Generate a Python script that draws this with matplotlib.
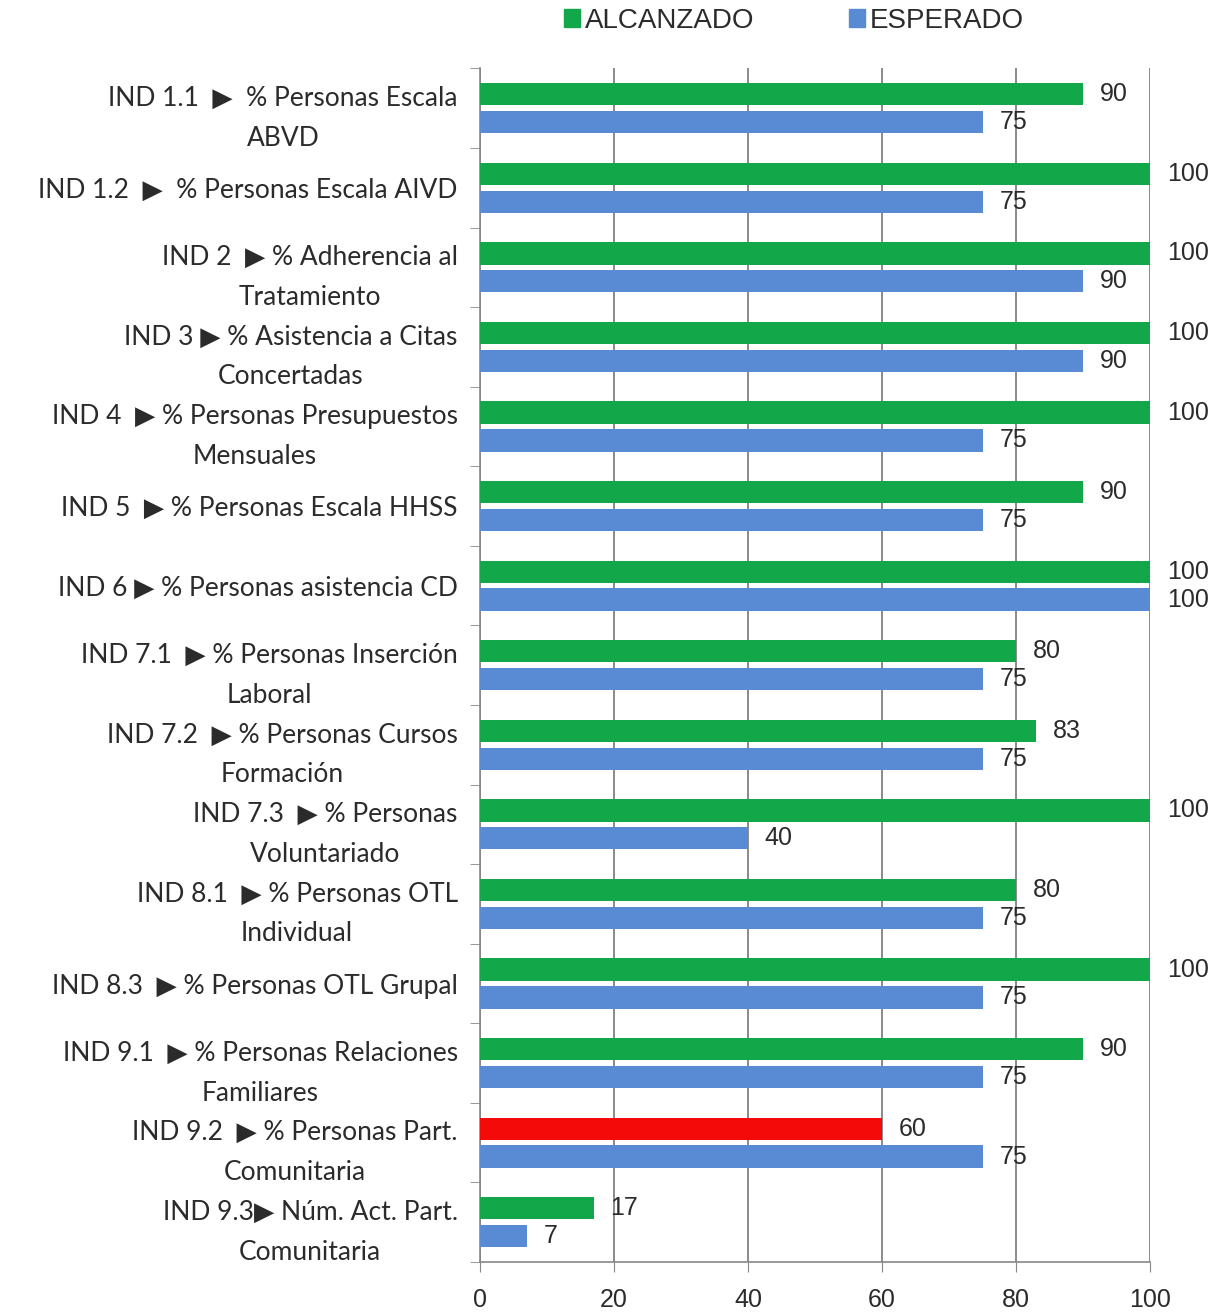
import numpy as np
import matplotlib
matplotlib.use('Agg')
import matplotlib.pyplot as plt
from matplotlib.patches import Patch

# Data
labels = [
    'IND 1.1  ▶  % Personas Escala\nABVD',
    'IND 1.2  ▶  % Personas Escala AIVD',
    'IND 2  ▶ % Adherencia al\nTratamiento',
    'IND 3 ▶ % Asistencia a Citas\nConcertadas',
    'IND 4  ▶ % Personas Presupuestos\nMensuales',
    'IND 5  ▶ % Personas Escala HHSS',
    'IND 6 ▶ % Personas asistencia CD',
    'IND 7.1  ▶ % Personas Inserción\nLaboral',
    'IND 7.2  ▶ % Personas Cursos\nFormación',
    'IND 7.3  ▶ % Personas\nVoluntariado',
    'IND 8.1  ▶ % Personas OTL\nIndividual',
    'IND 8.3  ▶ % Personas OTL Grupal',
    'IND 9.1  ▶ % Personas Relaciones\nFamiliares',
    'IND 9.2  ▶ % Personas Part.\nComunitaria',
    'IND 9.3▶ Núm. Act. Part.\nComunitaria',
]
alcanzado = [90, 100, 100, 100, 100, 90, 100, 80, 83, 100, 80, 100, 90, 60, 17]
esperado = [75, 75, 90, 90, 75, 75, 100, 75, 75, 40, 75, 75, 75, 75, 7]
xticks = [0, 20, 40, 60, 80, 100]

green = '#12a84a'
blue = '#588bd4'
red = '#f50a0a'
txt = '#2b2b2b'

# below target -> red
alc_colors = [green if a >= e else red for a, e in zip(alcanzado, esperado)]

lab_font = ['Lato', 'DejaVu Sans']
num_font = ['Liberation Sans Narrow', 'Liberation Sans', 'DejaVu Sans']

fig = plt.figure(figsize=(12.21, 13.16), dpi=100)
ax = fig.add_axes([0.393, 0.041, 0.549, 0.907])

y = np.arange(len(labels))
off = 0.175
h = 0.28
ax.barh(y - off, alcanzado, height=h, color=alc_colors, zorder=3)
ax.barh(y + off, esperado, height=h, color=blue, zorder=3)

for i in range(len(labels)):
    ax.annotate(str(alcanzado[i]), (alcanzado[i], y[i] - off), xytext=(12, 0),
                textcoords='offset points', va='center', ha='left',
                fontsize=18, color=txt, family=num_font, zorder=4)
    ax.annotate(str(esperado[i]), (esperado[i], y[i] + off), xytext=(12, 0),
                textcoords='offset points', va='center', ha='left',
                fontsize=18, color=txt, family=num_font, zorder=4)

ax.set_xlim(0, 100)
ax.set_ylim(len(labels) - 0.5, -0.5)
ax.set_xticks(xticks)
ax.set_xticklabels([str(v) for v in xticks], family=num_font, fontsize=18, color=txt)
ax.tick_params(axis='x', direction='out', length=7, pad=12, color='#888888')

ax.set_yticks(y)
ax.set_yticklabels(labels, family=lab_font, fontsize=19, color=txt,
                   multialignment='center', linespacing=1.75)
ax.set_yticks(np.arange(len(labels) + 1) - 0.5, minor=True)
ax.tick_params(axis='y', which='major', length=0, pad=16)
ax.tick_params(axis='y', which='minor', direction='out', length=7, color='#888888')

ax.grid(axis='x', color='#777777', linewidth=1.2, zorder=1)
ax.set_axisbelow(True)
for s in ['top', 'right']:
    ax.spines[s].set_visible(False)
for s in ['left', 'bottom']:
    ax.spines[s].set_color('#888888')
    ax.spines[s].set_linewidth(1.2)

handles = [Patch(color=green, label='ALCANZADO'), Patch(color=blue, label='ESPERADO')]
fig.legend(handles=handles, loc='center', bbox_to_anchor=(0.65, 0.984), ncol=2,
           frameon=False, prop={'family': num_font, 'size': 20},
           handlelength=0.6, handleheight=0.6, handletextpad=0.15, columnspacing=3.4,
           labelcolor=txt)

fig.savefig('out.png', dpi=100, facecolor='white')
